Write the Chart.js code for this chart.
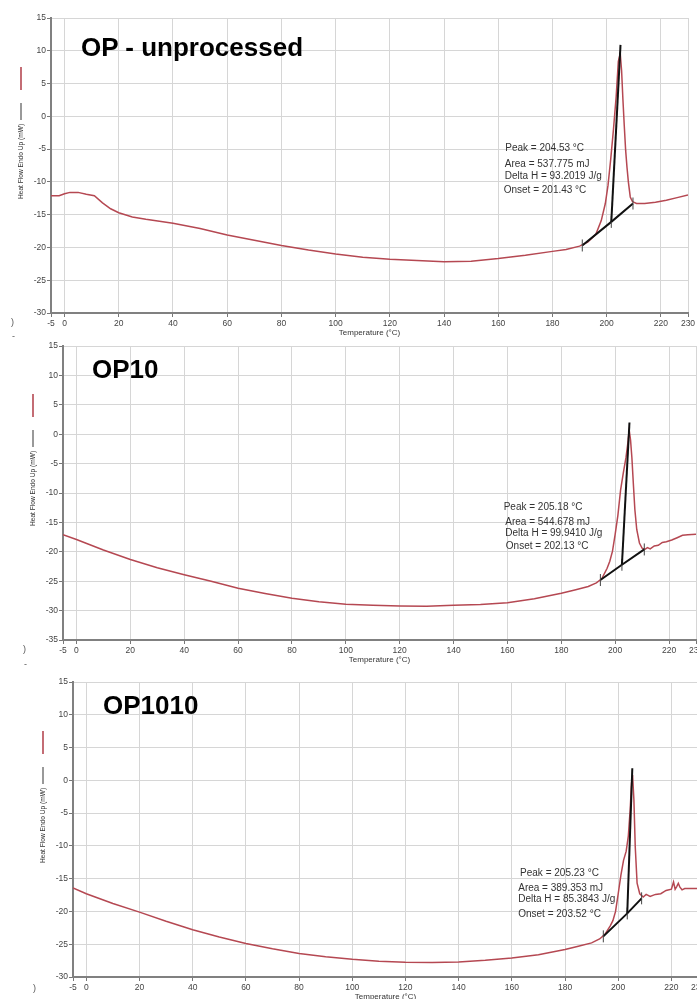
<!DOCTYPE html>
<html lang="en">
<head>
    <meta charset="UTF-8">
    <title>DSC curves - OP samples</title>
    <style>
        html, body { margin: 0; padding: 0; background: #fff; overflow: hidden; }
        body { width: 697px; height: 999px; position: relative; font-family: "Liberation Sans", Arial, sans-serif; }
        canvas { position: absolute; left: 0; }
        .panel-title { position: absolute; font-weight: bold; font-size: 26px; line-height: 26px; color: #000; white-space: nowrap; }
        .stray { position: absolute; font-size: 9px; line-height: 10px; color: #555; }
    </style>
</head>
<body>
    <canvas id="op1" width="697" height="340" style="top:0px"></canvas>
    <canvas id="op10" width="710" height="337" style="top:330px"></canvas>
    <canvas id="op1010" width="710" height="344" style="top:660px"></canvas>

    <div class="panel-title" style="left:81px; top:34px">OP - unprocessed</div>
    <div class="panel-title" style="left:92px; top:356px">OP10</div>
    <div class="panel-title" style="left:103px; top:692px">OP1010</div>

    <span class="stray" style="left:11px; top:317px">)</span>
    <span class="stray" style="left:12px; top:331px">-</span>
    <span class="stray" style="left:23px; top:644px">)</span>
    <span class="stray" style="left:24px; top:659px">-</span>
    <span class="stray" style="left:33px; top:983px">)</span>

    <script src="https://cdn.jsdelivr.net/npm/chart.js"></script>
    <script>
        // shared axis ticks
        const xTickValues = [-5, 0, 20, 40, 60, 80, 100, 120, 140, 160, 180, 200, 220, 230];
        const yTitle = "Heat Flow Endo Up (mW)";
        const xTitle = "Temperature (°C)";

        // OP - unprocessed
        const op1Temp = [-5, -2, 0, 2, 5, 8, 11, 14, 17, 20, 25, 30, 40, 50, 60, 70, 80, 90, 100, 110,
            120, 130, 140, 150, 160, 170, 180, 185, 190, 193, 196, 198, 199.5, 200.5, 201.5, 202.5, 203.5, 204.3, 205, 205.5,
            206, 206.5, 207, 207.5, 208, 208.7, 209.5, 211, 214, 218, 222, 226, 230];
        const op1Flow = [-12.1, -12.1, -11.8, -11.6, -11.6, -11.9, -12.1, -13.2, -14.1, -14.7, -15.35, -15.7, -16.3, -17.1, -18.1, -18.9, -19.7, -20.4, -21.0, -21.5,
            -21.8, -22.0, -22.2, -22.1, -21.7, -21.2, -20.6, -20.3, -19.8, -19.2, -18.0, -15.9, -13.3, -10.5, -6.5, -2.0, 3.0, 8.4, 9.6, 7.0,
            2.5, -1.5, -5.2, -7.8, -10.0, -12.3, -13.0, -13.3, -13.3, -13.1, -12.8, -12.4, -12.0];
        const op1BaseTemp = [191, 201.7, 209.7];
        const op1BaseFlow = [-19.7, -16.1, -13.3];
        const op1TanTemp = [201.7, 205.1];
        const op1TanFlow = [-16.1, 10.9];
        const op1Notes = ["Peak = 204.53 °C", "Area = 537.775 mJ", "Delta H = 93.2019 J/g", "Onset = 201.43 °C"];
        const op1NoteTemp = [162.6, 162.4, 162.4, 162.0];
        const op1NoteFlow = [-4.85, -7.3, -9.1, -11.3];

        // OP10
        const op10Temp = [-5, 0, 10, 20, 30, 40, 50, 60, 70, 80, 90, 100, 110, 120, 130, 140, 150, 160, 170, 180,
            185, 190, 193, 195, 197, 198, 199, 200, 201, 202, 203, 204, 204.7, 205.2, 205.7, 206.2, 206.8, 207.3, 208, 209,
            210, 211, 212, 213, 214.5, 216, 217.5, 219, 221, 223, 225, 227, 230];
        const op10Flow = [-17.1, -17.9, -19.7, -21.3, -22.7, -23.9, -25.0, -26.2, -27.1, -27.9, -28.5, -28.9, -29.1, -29.2, -29.25, -29.1, -28.95, -28.65, -28.0, -27.05,
            -26.5, -25.9, -25.3, -24.6, -22.8, -21.6, -19.9, -17.0, -13.8, -9.5, -6.6, -4.0, -1.5, 0.7, -1.0, -4.0, -8.9, -12.8, -16.2, -18.5,
            -19.4, -19.6, -19.3, -19.5, -19.0, -18.9, -18.4, -18.3, -18.0, -17.6, -17.2, -17.1, -17.0];
        const op10BaseTemp = [194.5, 202.5, 210.8];
        const op10BaseFlow = [-24.8, -22.2, -19.6];
        const op10TanTemp = [202.5, 205.3];
        const op10TanFlow = [-22.2, 2.0];
        const op10Notes = ["Peak = 205.18 °C", "Area = 544.678 mJ", "Delta H = 99.9410 J/g", "Onset = 202.13 °C"];
        const op10NoteTemp = [158.6, 159.2, 159.2, 159.4];
        const op10NoteFlow = [-12.5, -15.05, -16.9, -19.0];

        // OP1010
        const op1010Temp = [-5, 0, 10, 20, 30, 40, 50, 60, 70, 80, 90, 100, 110, 120, 130, 140, 150, 160, 170, 180,
            185, 190, 193, 195, 197, 198, 199, 200, 201, 202, 203, 203.8, 204.5, 205, 205.4, 205.9, 206.4, 207.1, 208.1, 209.4,
            210.5, 212, 214, 216, 218, 220, 220.8, 221.4, 222, 222.6, 223.2, 224, 225, 227, 230];
        const op1010Flow = [-16.4, -17.3, -18.8, -20.1, -21.5, -22.8, -23.9, -24.9, -25.7, -26.4, -26.9, -27.3, -27.6, -27.75, -27.8, -27.7, -27.45, -27.1, -26.6, -25.8,
            -25.3, -24.8, -24.2, -23.5, -22.2, -21.4, -20.0, -17.3, -14.5, -12.2, -10.8, -8.5, -4.5, -0.5, 0.8, -3.0, -10.1, -15.7, -17.3, -17.8,
            -17.4, -17.7, -17.4, -17.3, -16.8, -16.6, -15.5, -16.6, -16.2, -15.7, -16.3, -16.7, -16.5, -16.5, -16.5];
        const op1010BaseTemp = [194.4, 203.4, 208.8];
        const op1010BaseFlow = [-23.8, -20.3, -18.0];
        const op1010TanTemp = [203.4, 205.3];
        const op1010TanFlow = [-20.3, 1.85];
        const op1010Notes = ["Peak = 205.23 °C", "Area = 389.353 mJ", "Delta H = 85.3843 J/g", "Onset = 203.52 °C"];
        const op1010NoteTemp = [163.1, 162.4, 162.4, 162.4];
        const op1010NoteFlow = [-14.2, -16.5, -18.1, -20.4];

        const curveColor = "rgb(181, 72, 82)";
        const fontFamily = '"Liberation Sans", Arial, sans-serif';
        Chart.defaults.font.family = fontFamily;

        function pts(xs, ys) {
            return xs.map((x, i) => ({x: x, y: ys[i]}));
        }

        // result texts + rotated y label with its little legend marks
        const dscLabels = {
            id: "dscLabels",
            afterDraw(chart, args, opts) {
                const {ctx, chartArea, scales} = chart;
                ctx.save();
                ctx.font = "10px " + fontFamily;
                ctx.fillStyle = "#333";
                ctx.textAlign = "left";
                ctx.textBaseline = "middle";
                opts.notes.forEach((t, i) => {
                    ctx.fillText(t, scales.x.getPixelForValue(opts.noteTemp[i]), scales.y.getPixelForValue(opts.noteFlow[i]));
                });

                ctx.translate(chartArea.left - 30, chartArea.bottom - 114);
                ctx.rotate(-Math.PI / 2);
                ctx.font = "6.6px " + fontFamily;
                ctx.fillText(yTitle, 0, 0);
                let w = ctx.measureText(yTitle).width + 4;
                ctx.strokeStyle = "#555";
                ctx.lineWidth = 1.2;
                ctx.beginPath();
                ctx.moveTo(w, 0);
                ctx.lineTo(w + 17, 0);
                ctx.stroke();
                ctx.strokeStyle = curveColor;
                ctx.lineWidth = 1.6;
                ctx.beginPath();
                ctx.moveTo(w + 30, 0);
                ctx.lineTo(w + 53, 0);
                ctx.stroke();
                ctx.restore();
            }
        };

        function dscChart(id, p) {
            return new Chart(document.getElementById(id), {
                type: "scatter",
                data: {
                    datasets: [
                        { data: pts(p.tanT, p.tanF), showLine: true, borderColor: "#111", borderWidth: 2, pointRadius: 0, order: 0 },
                        { data: pts(p.baseT, p.baseF), showLine: true, borderColor: "#111", borderWidth: 2,
                          pointStyle: "line", rotation: 90, pointRadius: 6, pointBorderColor: "#444", pointBorderWidth: 1, order: 0 },
                        { data: pts(p.temp, p.flow), showLine: true, borderColor: curveColor, borderWidth: 1.5, pointRadius: 0, order: 1 }
                    ]
                },
                options: {
                    responsive: false,
                    animation: false,
                    devicePixelRatio: 1,
                    layout: { padding: { top: p.padTop, right: p.padRight, left: 0, bottom: 0 } },
                    plugins: {
                        legend: { display: false },
                        tooltip: { enabled: false },
                        dscLabels: { notes: p.notes, noteTemp: p.noteT, noteFlow: p.noteF }
                    },
                    scales: {
                        x: {
                            type: "linear",
                            min: -5,
                            max: 230,
                            afterBuildTicks: s => { s.ticks = xTickValues.map(v => ({value: v})); },
                            afterFit: s => { s.height = 27; s.paddingLeft = 0; s.paddingRight = 0; },
                            ticks: { font: { size: 8.5 }, color: "#444", padding: 2, maxRotation: 0, autoSkip: false, callback: v => v },
                            grid: { color: "#d6d6d6", tickColor: "#777", tickLength: 4 },
                            border: { color: "#808080", width: 2 },
                            title: { display: true, text: xTitle, font: { size: 8 }, color: "#333", padding: { top: 0, bottom: 2.2 } }
                        },
                        y: {
                            min: p.yMin,
                            max: 15,
                            afterFit: s => { s.width = p.yWidth; s.paddingTop = 0; s.paddingBottom = 0; },
                            ticks: { stepSize: 5, font: { size: 8.5 }, color: "#444", padding: 1 },
                            grid: { color: "#d6d6d6", tickColor: "#777", tickLength: 4 },
                            border: { color: "#808080", width: 2 }
                        }
                    }
                },
                plugins: [dscLabels]
            });
        }

        dscChart("op1", {
            temp: op1Temp, flow: op1Flow, baseT: op1BaseTemp, baseF: op1BaseFlow, tanT: op1TanTemp, tanF: op1TanFlow,
            notes: op1Notes, noteT: op1NoteTemp, noteF: op1NoteFlow,
            yMin: -30, yWidth: 51, padTop: 18, padRight: 9
        });
        dscChart("op10", {
            temp: op10Temp, flow: op10Flow, baseT: op10BaseTemp, baseF: op10BaseFlow, tanT: op10TanTemp, tanF: op10TanFlow,
            notes: op10Notes, noteT: op10NoteTemp, noteF: op10NoteFlow,
            yMin: -35, yWidth: 63, padTop: 16, padRight: 14
        });
        dscChart("op1010", {
            temp: op1010Temp, flow: op1010Flow, baseT: op1010BaseTemp, baseF: op1010BaseFlow, tanT: op1010TanTemp, tanF: op1010TanFlow,
            notes: op1010Notes, noteT: op1010NoteTemp, noteF: op1010NoteFlow,
            yMin: -30, yWidth: 73, padTop: 22, padRight: 12
        });
    </script>
</body>
</html>
